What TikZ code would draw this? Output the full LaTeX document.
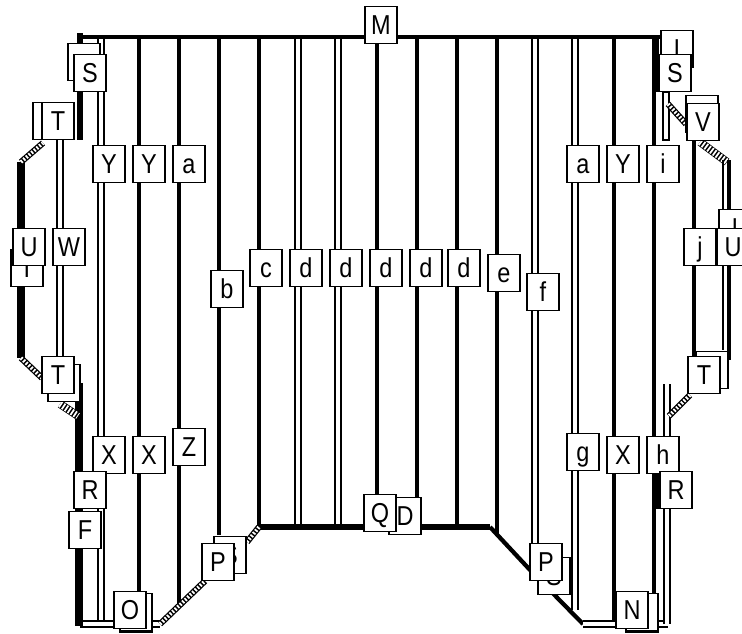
\documentclass[tikz,border=0pt]{standalone}
\usepackage{fontspec}
\setmainfont[FakeStretch=.86]{Liberation Sans}
\usepackage{tikz}
\usetikzlibrary{calc}

\tikzset{
  lab/.style={draw=black,fill=white,line width=1.1pt,inner sep=0pt,minimum width=24pt,minimum height=27.6pt,
    text height=14.8pt,text depth=0pt,font=\fontsize{20.5}{22}\selectfont},
  rail/.style={draw=black,line width=3.2pt},
  dbl/.style={draw=black,double=white,line width=1.45pt,double distance=2.4pt},
  heavy/.style={draw=black,line width=5.4pt},
  hatch/.style={draw=black,line width=4.6pt,postaction={draw=white,line width=2.8pt,dash pattern=on 1.3pt off 1.3pt}},
  hatchwide/.style={draw=black,line width=6pt,postaction={draw=white,line width=5pt,dash pattern=on 1.3pt off 1.3pt}}
}

\begin{document}
\begin{tikzpicture}[x=.75pt,y=-.75pt]
\useasboundingbox (0,0) rectangle (742,633);
% rails
\foreach \n/\x/\yb in {a/139/600,b/179/605,c/219/535,d/259/527,h/377/527,i/417/527,j/457/527,k/497/535,m/614/623,n/654/623}{
  \coordinate (top\n) at (\x,37);
  \coordinate (bot\n) at (\x,\yb);
  \draw[rail] (top\n) -- (bot\n);
}
\foreach \n/\x/\yb in {e/101/623,f/298/527,g/338/527,l/535/560,o/575/610}{
  \coordinate (top\n) at (\x,37);
  \coordinate (bot\n) at (\x,\yb);
  \draw[dbl] (top\n) -- (bot\n);
}
% top and bottom chords
\coordinate (tl) at (78,37);
\coordinate (tr) at (668,37);
\draw[line width=3pt] (tl) -- (tr);
\coordinate (ml) at (259,527);
\coordinate (mr) at (490,527);
\draw[line width=4.6pt] (ml) -- (mr);
\coordinate (pr) at (531,571);
\coordinate (qr) at (583,624);
\draw[line width=3.2pt] (mr) -- (pr);
\draw[line width=3.2pt] (pr) -- (qr);
\coordinate (bl) at (80,624);
\coordinate (bm) at (160,624);
\coordinate (br) at (668,624);
\draw[dbl] (bl) -- (bm);
\draw[dbl] (qr) -- (br);
% left side
\coordinate (la) at (80,33);
\coordinate (lb) at (80,140);
\draw[line width=4.4pt] (la) -- (lb);
\coordinate (lc) at (79,383);
\coordinate (ld) at (79,626);
\draw[heavy] (lc) -- (ld);
\coordinate (ua) at (21,162);
\coordinate (ub) at (21,358);
\draw[heavy] (ua) -- (ub);
\coordinate (wa) at (60,140);
\coordinate (wb) at (60,358);
\draw[dbl] (wa) -- (wb);
\coordinate (ha) at (43,143);
\coordinate (hb) at (42,378);
\coordinate (hc) at (60,404);
\coordinate (hd) at (78,416);
\coordinate (he) at (205,581);
\coordinate (hf) at (247,542);
\draw[hatch] (ua) -- (ha);
\draw[hatch] (ub) -- (hb);
\draw[hatchwide] (hc) -- (hd);
\draw[hatch] (bm) -- (he);
\draw[hatch] (hf) -- (ml);
% right side
\coordinate (rs) at (656,37);
\coordinate (rt) at (656,92);
\draw[line width=4.6pt] (rs) -- (rt);
\coordinate (ru) at (657,474);
\coordinate (rv) at (657,509);
\draw[line width=4.6pt] (ru) -- (rv);
\coordinate (ra) at (663,92);
\coordinate (rb) at (669,140);
\draw[line width=1.45pt] (ra) rectangle (rb);
\coordinate (rc) at (668,104);
\coordinate (rd) at (686,124);
\draw[hatch] (rc) -- (rd);
\coordinate (re) at (700,142);
\coordinate (rf) at (727,162);
\draw[hatchwide] (re) -- (rf);
\coordinate (rg) at (694,140);
\coordinate (rh) at (694,358);
\draw[rail] (rg) -- (rh);
\coordinate (ri) at (729,160);
\coordinate (rj) at (729,360);
\draw[rail] (ri) -- (rj);
\coordinate (rk) at (723,160);
\coordinate (rl) at (723,350);
\draw[line width=1.4pt] (rk) -- (rl);
\coordinate (rm) at (667,384);
\coordinate (rn) at (667,624);
\draw[dbl] (rm) -- (rn);
\coordinate (ro) at (690,395);
\coordinate (rp) at (669,416);
\draw[hatch] (ro) -- (rp);
% boxes behind
\node[lab] (Sb) at (84,62) {};
\node[lab] (Tb) at (49,121) {};
\node[lab] (Ib) at (27,268) {I};
\node[lab] (Tc) at (64,383) {};
\node[lab] (Ob) at (136,612) {};
\draw[line width=2.2pt] (Ob.south west) -- (Ob.south east);
\node[lab] (Pb) at (230,555) {S};
\node[lab] (Db) at (405,516) {D};
\node[lab] (Pc) at (554,576) {S};
\node[lab] (Nb) at (642,612) {};
\draw[line width=2.2pt] (Nb.south west) -- (Nb.south east);
\node[lab] (Ia) at (677,49) {I};
\node[lab] (Vb) at (702,114) {};
\node[lab] (Ic) at (735,228) {I};
\node[lab] (Td) at (712,370) {};
% labels
\node[lab] (M) at (381,25) {M};
\node[lab] (S1) at (90,73) {S};
\node[lab] (T1) at (58,121) {T};
\node[lab] (Y1) at (109,164) {Y};
\node[lab] (Y2) at (149,164) {Y};
\node[lab] (a1) at (189,164) {a};
\node[lab] (U1) at (29,247) {U};
\node[lab] (W) at (69,247) {W};
\node[lab] (b) at (227,289) {b};
\node[lab] (c) at (266,268) {c};
\node[lab] (d1) at (306,268) {d};
\node[lab] (d2) at (346,268) {d};
\node[lab] (d3) at (386,268) {d};
\node[lab] (d4) at (426,268) {d};
\node[lab] (d5) at (464,268) {d};
\node[lab] (e) at (504,273) {e};
\node[lab] (f) at (543,292) {f};
\node[lab] (T2) at (58,375) {T};
\node[lab] (X1) at (109,455) {X};
\node[lab] (X2) at (149,455) {X};
\node[lab] (Z) at (189,447) {Z};
\node[lab] (R1) at (90,490) {R};
\node[lab] (F) at (85,530) {F};
\node[lab] (O) at (130,610) {O};
\node[lab] (P1) at (218,562) {P};
\node[lab] (Q) at (380,513) {Q};
\node[lab] (P2) at (546,562) {P};
\node[lab] (N) at (632,610) {N};
\node[lab] (g) at (583,452) {g};
\node[lab] (X3) at (623,455) {X};
\node[lab] (h) at (663,455) {h};
\node[lab] (R2) at (676,490) {R};
\node[lab] (T3) at (704,375) {T};
\node[lab] (a2) at (583,164) {a};
\node[lab] (Y3) at (623,164) {Y};
\node[lab] (i) at (663,164) {i};
\node[lab] (S2) at (675,73) {S};
\node[lab] (V) at (703,122) {V};
\node[lab] (j) at (700,247) {j};
\node[lab] (U2) at (733,247) {U};
\end{tikzpicture}
\end{document}
